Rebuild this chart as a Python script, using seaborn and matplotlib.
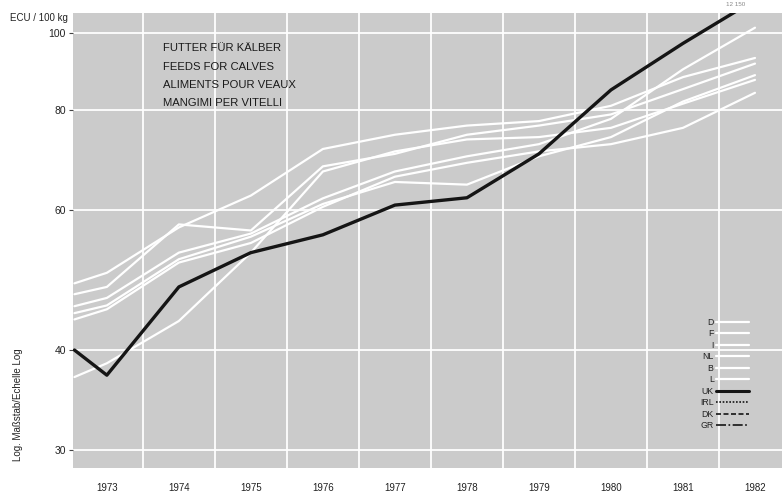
import matplotlib
matplotlib.use("Agg")
import matplotlib.pyplot as plt
from matplotlib.ticker import FixedLocator, NullFormatter
from matplotlib.lines import Line2D
import seaborn as sns
import pandas as pd

# Jahre (erster Punkt = linker Rand, Mitte 1972/73)
years = [1972.55, 1973, 1974, 1975, 1976, 1977, 1978, 1979, 1980, 1981, 1982]
year_labels = [1973, 1974, 1975, 1976, 1977, 1978, 1979, 1980, 1981, 1982]

# ECU / 100 kg
d_vals = [48.5, 50.0, 57.0, 62.5, 71.5, 74.5, 76.5, 77.5, 81.0, 88.0, 93.0]
f_vals = [47.0, 48.0, 57.5, 56.5, 68.0, 70.5, 74.5, 76.5, 79.0, 85.0, 91.5]
i_vals = [37.0, 38.5, 43.5, 53.0, 67.0, 71.0, 73.5, 74.0, 76.0, 81.5, 87.3]
nl_vals = [43.7, 45.0, 51.5, 54.5, 60.5, 66.0, 68.7, 71.0, 72.5, 76.0, 84.1]
b_vals = [45.4, 46.5, 53.0, 56.0, 62.0, 67.0, 70.0, 72.5, 78.0, 90.0, 101.5]
l_vals = [44.5, 45.5, 52.0, 55.5, 61.0, 65.0, 64.5, 70.0, 74.0, 82.0, 88.5]
uk_vals = [40.0, 37.2, 48.0, 53.0, 55.8, 60.8, 62.1, 70.5, 84.8, 97.0, 110.0]

white_series = {"D": d_vals, "F": f_vals, "I": i_vals, "NL": nl_vals, "B": b_vals, "L": l_vals}
y_ticks = [30, 40, 60, 80, 100]
title_lines = ["FUTTER FÜR KÄLBER", "FEEDS FOR CALVES", "ALIMENTS POUR VEAUX", "MANGIMI PER VITELLI"]

sns.set_theme(style="white")
plt.rcParams['font.family'] = ['Liberation Sans', 'DejaVu Sans']

fig = plt.figure(figsize=(7.82, 4.97), dpi=100)
ax = fig.add_axes([73 / 782, 1 - 468 / 497, 1 - 73 / 782, 455 / 497])
ax.set_facecolor("#cbcbcb")

rows = []
for name, vals in white_series.items():
    for x, v in zip(years, vals):
        rows.append({"Jahr": x, "Wert": v, "Land": name})
df_w = pd.DataFrame(rows)
df_uk = pd.DataFrame({"Jahr": years, "Wert": uk_vals})

sns.lineplot(data=df_w, x="Jahr", y="Wert", units="Land", estimator=None,
             color="white", lw=1.6, ax=ax, legend=False)
sns.lineplot(data=df_uk, x="Jahr", y="Wert", color="#151515", lw=2.4, ax=ax, legend=False)

ax.set_yscale("log")
ax.set_ylim(28.45, 105.9)
ax.set_xlim(1972.53, 1982.375)

# Achsen / Gitter
ax.yaxis.set_major_locator(FixedLocator(y_ticks))
ax.set_yticklabels([str(t) for t in y_ticks])
ax.yaxis.set_minor_formatter(NullFormatter())
ax.yaxis.set_minor_locator(FixedLocator([]))
ax.set_xticks(year_labels)
ax.set_xticklabels([str(y) for y in year_labels])
ax.set_xticks([y + 0.5 for y in year_labels[:-1]], minor=True)
ax.grid(False)
ax.grid(True, which="major", axis="y", color="white", lw=1.3)
ax.grid(True, which="minor", axis="x", color="white", lw=1.3)
ax.tick_params(axis="y", which="major", length=3, width=0.8, color="#444444",
               labelsize=7.5, labelcolor="#222222", pad=2, direction="out", left=True)
ax.tick_params(axis="x", which="both", length=0, labelsize=7, labelcolor="#222222", pad=11)
for s in ax.spines.values():
    s.set_visible(False)
ax.set_xlabel("")
ax.set_ylabel("")

# Texte
fig.text(10 / 782, 1 - 18 / 497, "ECU / 100 kg", fontsize=7, color="#222222", va="center")
fig.text(18 / 782, 1 - 405 / 497, "Log. Maßstab/Echelle Log", fontsize=7, color="#222222",
         rotation=90, va="center", ha="center")
for i, t in enumerate(title_lines):
    ax.text(163 / 782, 1 - (48 + i * 18.5) / 497, t, transform=fig.transFigure,
            fontsize=8.1, color="#1a1a1a", va="center")
fig.text(736 / 782, 1 - 5 / 497, "12 150", fontsize=4.5, color="#888888", ha="center", va="center")

# Legende
handles = [Line2D([], [], color="white", lw=1.6) for _ in white_series]
handles += [Line2D([], [], color="#151515", lw=2.2),
            Line2D([], [], color="#151515", lw=1.2, ls=(0, (1, 1))),
            Line2D([], [], color="#151515", lw=1.2, ls=(0, (3, 1.5))),
            Line2D([], [], color="#151515", lw=1.2, ls=(0, (6, 1.5, 1, 1.5)))]
labels = list(white_series.keys()) + ["UK", "IRL", "DK", "GR"]
leg = ax.legend(handles, labels, loc="upper left", bbox_to_anchor=(700 / 782, 1 - 318 / 497),
                bbox_transform=fig.transFigure, frameon=False, markerfirst=False,
                fontsize=6.3, handlelength=3.7, handletextpad=0.3, labelspacing=0.28,
                borderpad=0, borderaxespad=0)
for t in leg.get_texts():
    t.set_color("#222222")

fig.savefig("out.png", dpi=100)
